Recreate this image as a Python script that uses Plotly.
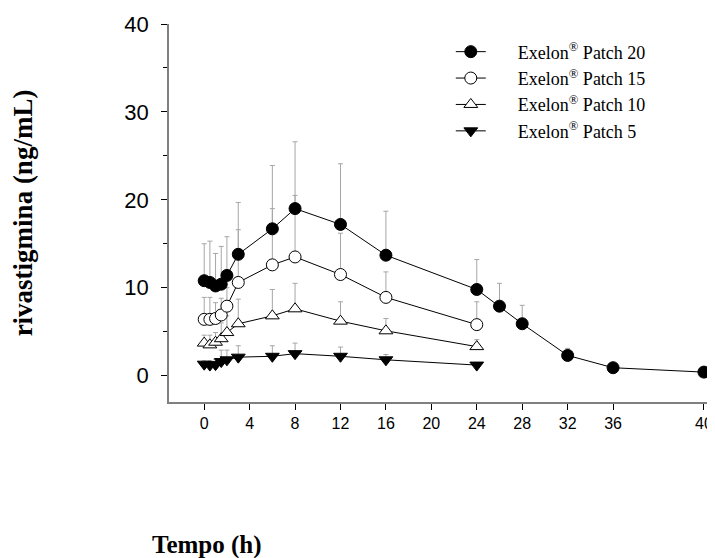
import plotly.graph_objects as go

# time points (h); the last sampling point sits under the "40" tick, which the
# original axis draws at a stretched final interval (position 44 on the scale)
t_20 = [0, 0.5, 1, 1.5, 2, 3, 6, 8, 12, 16, 24, 26, 28, 32, 36, 44]
t_other = [0, 0.5, 1, 1.5, 2, 3, 6, 8, 12, 16, 24]

# mean concentrations (ng/mL)
patch20 = [10.8, 10.6, 10.2, 10.4, 11.4, 13.8, 16.7, 19.0, 17.2, 13.7, 9.8, 7.9, 5.9, 2.3, 0.9, 0.4]
patch15 = [6.4, 6.4, 6.5, 6.9, 7.9, 10.6, 12.6, 13.5, 11.5, 8.9, 5.8]
patch10 = [3.7, 3.5, 3.8, 4.2, 4.9, 5.9, 6.8, 7.6, 6.2, 5.1, 3.3]
patch5 = [1.3, 1.2, 1.25, 1.6, 1.8, 2.1, 2.2, 2.5, 2.2, 1.8, 1.2]

# upper error bar ends (mean + SD)
patch20_up = [15.0, 15.3, 13.9, 14.7, 15.8, 19.7, 23.9, 26.6, 24.1, 18.7, 13.2, 10.5, 8.0, 3.1, 1.0, 0.5]
patch15_up = [8.9, 8.9, 8.3, 8.8, 10.0, 16.6, 19.0, 20.5, 16.2, 11.8, 8.4]
patch10_up = [4.6, 4.6, 4.9, 6.0, 6.8, 8.7, 9.8, 10.5, 8.4, 6.5, 4.1]
patch5_up = [1.7, 1.7, 1.8, 2.9, 2.9, 3.4, 3.4, 3.7, 3.25, 2.4, 1.3]

names = ["Exelon<sup>®</sup> Patch 20", "Exelon<sup>®</sup> Patch 15",
         "Exelon<sup>®</sup> Patch 10", "Exelon<sup>®</sup> Patch 5"]

x_tickvals = [0, 4, 8, 12, 16, 20, 24, 28, 32, 36, 44]
x_ticktext = ["0", "4", "8", "12", "16", "20", "24", "28", "32", "36", "40"]
y_ticks = [0, 10, 20, 30, 40]

series = [
    (t_20, patch20, patch20_up, "circle", "black"),
    (t_other, patch15, patch15_up, "circle", "white"),
    (t_other, patch10, patch10_up, "triangle-up", "white"),
    (t_other, patch5, patch5_up, "triangle-down", "black"),
]

fig = go.Figure()

# error bars first (behind everything)
for t, y, up, sym, fill in series:
    fig.add_trace(go.Scatter(
        x=t, y=y, mode="markers",
        marker=dict(size=1, color="rgba(0,0,0,0)"),
        error_y=dict(type="data", symmetric=False,
                     array=[u - v for u, v in zip(up, y)],
                     arrayminus=[0] * len(y),
                     color="#a6a6a6", thickness=1, width=2.5),
        showlegend=False, hoverinfo="skip"))

pad = "\u00a0" * 6
for (t, y, up, sym, fill), name in zip(series, names):
    fig.add_trace(go.Scatter(
        x=t, y=y, mode="lines+markers", name=pad + name,
        line=dict(color="black", width=1),
        marker=dict(symbol=sym, size=12, color=fill,
                    line=dict(color="black", width=1))))

fig.update_layout(
    width=715, height=558,
    margin=dict(l=161, r=10, t=16, b=164),
    paper_bgcolor="white", plot_bgcolor="white",
    showlegend=True,
    legend=dict(x=0.518, y=0.975, xanchor="left", yanchor="top",
                font=dict(family="Liberation Serif", size=18, color="black"),
                bgcolor="rgba(0,0,0,0)", itemwidth=30, tracegroupgap=0),
    font=dict(family="Liberation Sans", color="black"),
)

fig.update_xaxes(
    range=[-3.1, 44.8], tickvals=x_tickvals, ticktext=x_ticktext,
    automargin=False,
    showgrid=False, zeroline=False,
    showline=True, linecolor="#808080", linewidth=1.5,
    ticks="outside", ticklen=6, tickcolor="black", tickwidth=1,
    tickfont=dict(family="Liberation Sans", size=16, color="black"),
)
fig.update_yaxes(
    range=[-3, 40], tickvals=y_ticks,
    automargin=False,
    showgrid=False, zeroline=False,
    showline=True, linecolor="#808080", linewidth=1.5,
    ticks="outside", ticklen=6, tickcolor="black", tickwidth=1,
    ticklabelstandoff=8,
    minor=dict(tickvals=[5, 15, 25, 35], ticks="outside", ticklen=4, tickcolor="black"),
    tickfont=dict(family="Liberation Sans", size=22, color="black"),
    title=dict(text="<b>rivastigmina (ng/mL)</b>", standoff=93,
               font=dict(family="Liberation Serif", size=27, color="black")),
)

fig.add_annotation(
    text="<b>Tempo (h)</b>", xref="paper", yref="paper",
    x=0.07, y=-0.378, xanchor="center", yanchor="middle", showarrow=False,
    font=dict(family="Liberation Serif", size=25, color="black"))

fig.write_html("out.html")
